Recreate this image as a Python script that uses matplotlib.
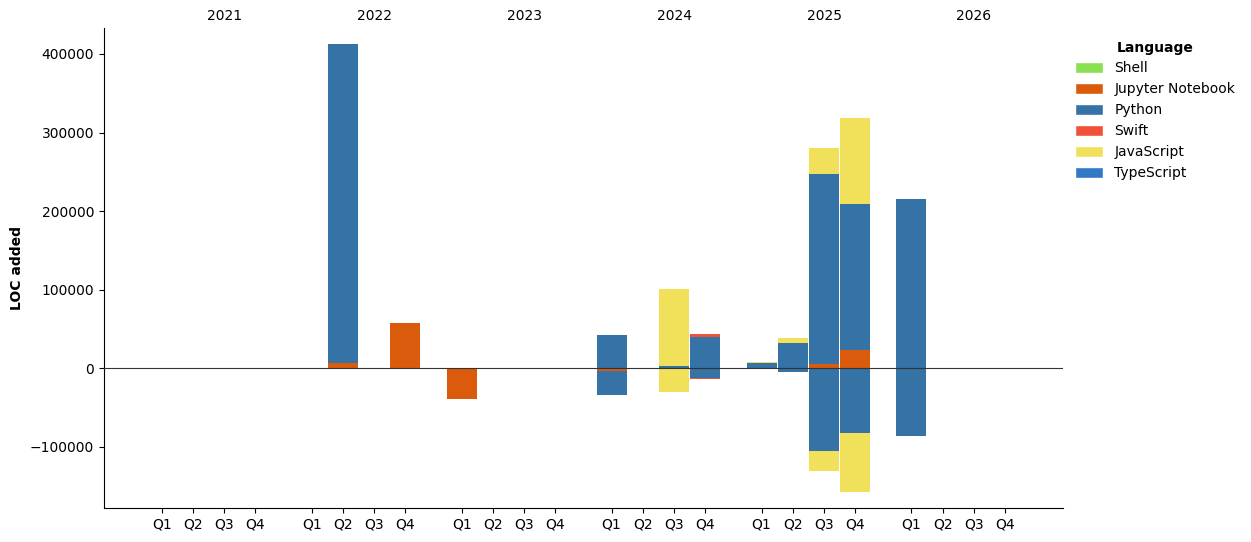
import matplotlib.pyplot as plt
from matplotlib.patches import Patch
import numpy as np

years = ['2021', '2022', '2023', '2024', '2025', '2026']
quarters = ['Q1', 'Q2', 'Q3', 'Q4']
languages = ['Shell', 'Jupyter Notebook', 'Python', 'Swift', 'JavaScript', 'TypeScript']
colors = ['#89e051', '#DA5B0B', '#3572A5', '#F05138', '#f1e05a', '#3178c6']

# LOC added / removed per quarter, 2021Q1 .. 2026Q4 (24 entries)
shell_add = [0] * 16 + [800, 0, 0, 0] + [0] * 4
shell_del = [0] * 24
jupyter_add = [0, 0, 0, 0, 0, 6500, 0, 57300] + [0] * 10 + [5500, 23300] + [0] * 4
jupyter_del = [0] * 8 + [-39500, 0, 0, 0, -4000] + [0] * 11
python_add = [0, 0, 0, 0, 0, 406000, 0, 0] + [0] * 4 + [42000, 0, 2500, 39500] + \
    [6000, 31800, 241500, 185700] + [215300, 0, 0, 0]
python_del = [0] * 12 + [-30600, 0, -500, -12300] + [-1000, -5000, -105700, -82800] + \
    [-86600, 0, 0, 0]
swift_add = [0] * 15 + [4000] + [0] * 8
swift_del = [0] * 15 + [-1500] + [0] * 8
js_add = [0] * 14 + [98000, 0] + [1500, 6400, 33000, 109500] + [0] * 4
js_del = [0] * 14 + [-29300, -500] + [0, 0, -25000, -75200] + [0] * 4
ts_add = [0] * 24
ts_del = [0] * 24

added = [shell_add, jupyter_add, python_add, swift_add, js_add, ts_add]
removed = [shell_del, jupyter_del, python_del, swift_del, js_del, ts_del]

year_step = 4.8
x = np.array([yi * year_step + qi for yi in range(len(years)) for qi in range(4)])

fig = plt.figure(figsize=(12.51, 5.42), dpi=100)
ax = fig.add_axes([0.0831, 0.0627, 0.7666, 0.8856])

pos_bottom = np.zeros(len(x))
neg_bottom = np.zeros(len(x))
for lang, col, a, r in zip(languages, colors, added, removed):
    a = np.array(a, dtype=float)
    r = np.array(r, dtype=float)
    ax.bar(x, a, width=0.96, bottom=pos_bottom, color=col, linewidth=0)
    ax.bar(x, r, width=0.96, bottom=neg_bottom, color=col, linewidth=0)
    pos_bottom += a
    neg_bottom += r

ax.axhline(0, color='#333333', linewidth=0.8, zorder=5)

ax.set_xticks(x)
ax.set_xticklabels(quarters * len(years))
ax.set_xlim(-1.85, x[-1] + 1.85)
ax.set_ylim(-178000, 433000)
ax.set_ylabel('LOC added', fontweight='bold')
ax.spines['top'].set_visible(False)
ax.spines['right'].set_visible(False)

top = ax.secondary_xaxis('top')
top.set_xticks([yi * year_step + 2 for yi in range(len(years))])
top.set_xticklabels(years)
top.tick_params(length=0)
top.spines['top'].set_visible(False)

handles = [Patch(facecolor=c, edgecolor='white', label=l) for l, c in zip(languages, colors)]
leg = ax.legend(handles=handles, title='Language', loc='upper left',
                bbox_to_anchor=(1.0, 1.0), frameon=False, handleheight=0.8)
leg.get_title().set_fontweight('bold')

fig.savefig('out.png', dpi=100)
